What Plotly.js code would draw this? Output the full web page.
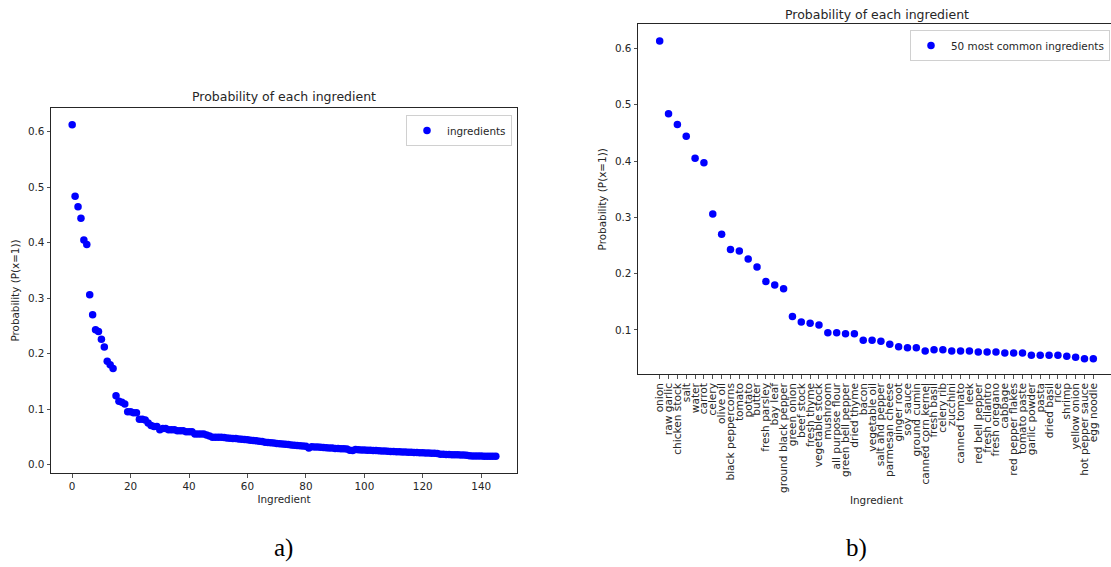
<!DOCTYPE html>
<html><head><meta charset="utf-8">
<script src="https://cdn.plot.ly/plotly-3.0.1.min.js"></script>
<style>html,body{margin:0;padding:0;overflow:hidden;background:#fff}#chart{width:1120px;height:567px}</style>
</head><body><div id="chart"></div><script>
// Probability of each ingredient, sorted (146 ingredients)
const probabilities = [
  0.613, 0.484, 0.465, 0.444, 0.405, 0.397, 0.306, 0.270, 0.243, 0.240,
  0.226, 0.212, 0.186, 0.180, 0.173, 0.124, 0.114, 0.112, 0.109, 0.095,
  0.095, 0.0935, 0.0935, 0.0817, 0.0817, 0.080, 0.0746, 0.0704, 0.0686, 0.0686,
  0.0627, 0.065, 0.065, 0.0627, 0.0627, 0.0627, 0.061, 0.061, 0.061, 0.0592,
  0.0592, 0.0592, 0.055, 0.055, 0.055, 0.055, 0.0533, 0.0515, 0.049, 0.049,
  0.0490, 0.0490, 0.0485, 0.0478, 0.0473, 0.0470, 0.0468, 0.0460, 0.0455, 0.0452,
  0.0445, 0.0438, 0.0433, 0.0428, 0.0420, 0.0415, 0.0400, 0.0395, 0.0390, 0.0385,
  0.0380, 0.0375, 0.0368, 0.0365, 0.0360, 0.0352, 0.0348, 0.0343, 0.0338, 0.0333,
  0.0330, 0.0298, 0.0318, 0.0315, 0.0313, 0.0310, 0.0305, 0.0300, 0.0298, 0.0295,
  0.0290, 0.0288, 0.0285, 0.0283, 0.0280, 0.0255, 0.0250, 0.0268, 0.0265, 0.0263,
  0.0260, 0.0258, 0.0255, 0.0252, 0.0250, 0.0248, 0.0245, 0.0243, 0.0240, 0.0235,
  0.0232, 0.0230, 0.0228, 0.0226, 0.0224, 0.0222, 0.0220, 0.0218, 0.0215, 0.0212,
  0.0210, 0.0208, 0.0206, 0.0204, 0.0202, 0.0200, 0.0185, 0.0183, 0.0181, 0.0179,
  0.0177, 0.0175, 0.0173, 0.0171, 0.0169, 0.0167, 0.0155, 0.0154, 0.0153, 0.0152,
  0.0151, 0.0150, 0.0149, 0.0148, 0.0147, 0.0146
];
const top50Labels = [
  "onion", "raw garlic", "chicken stock", "salt", "water", "carrot", "celery", "olive oil",
  "black peppercorns", "tomato", "potato", "butter", "fresh parsley", "bay leaf",
  "ground black pepper", "green onion", "beef stock", "fresh thyme", "vegetable stock",
  "mushroom", "all purpose flour", "green bell pepper", "dried thyme", "bacon",
  "vegetable oil", "salt and pepper", "parmesan cheese", "ginger root", "soy sauce",
  "ground cumin", "canned corn kernel", "fresh basil", "celery rib", "zucchini",
  "canned tomato", "leek", "red bell pepper", "fresh cilantro", "fresh oregano", "cabbage",
  "red pepper flakes", "tomato paste", "garlic powder", "pasta", "dried basil", "rice",
  "shrimp", "yellow onion", "hot pepper sauce", "egg noodle"
];
const leftXTicks = [0, 20, 40, 60, 80, 100, 120, 140];
const leftYTicks = [0.0, 0.1, 0.2, 0.3, 0.4, 0.5, 0.6];
const rightYTicks = [0.1, 0.2, 0.3, 0.4, 0.5, 0.6];
const titleText = "Probability of each ingredient";
const yTitleText = "Probability (P(x=1))";
const xTitleText = "Ingredient";

const W = 1120, H = 567;
const px = x => x / W;
const py = y => 1 - y / H;
const ink = '#262626';
const font = 'DejaVu Sans, sans-serif';

const ingredientIndex = probabilities.map((_, i) => i);
const top50Probs = probabilities.slice(0, top50Labels.length);

const traces = [
  {x: ingredientIndex, y: probabilities, type: 'scatter', mode: 'markers', name: 'ingredients',
   marker: {color: '#0000ff', size: 7.5}, xaxis: 'x', yaxis: 'y', legend: 'legend'},
  {x: top50Labels, y: top50Probs, type: 'scatter', mode: 'markers', name: '50 most common ingredients',
   marker: {color: '#0000ff', size: 7.5}, xaxis: 'x2', yaxis: 'y2', legend: 'legend2'}
];

const axisBase = {
  showline: true, mirror: true, linecolor: ink, linewidth: 1,
  ticks: 'outside', ticklen: 3.5, tickwidth: 0.8, tickcolor: ink,
  showgrid: false, zeroline: false,
  tickfont: {family: font, size: 10.4, color: ink}
};

const layout = {
  width: W, height: H,
  margin: {l: 0, r: 0, t: 0, b: 0},
  paper_bgcolor: '#fff', plot_bgcolor: '#fff',
  showlegend: true,
  xaxis: Object.assign({}, axisBase, {
    domain: [px(51), px(517)], range: [-7.25, 152.25],
    tickvals: leftXTicks, anchor: 'y',
    title: {text: xTitleText, font: {family: font, size: 10.4, color: ink}, standoff: 4}
  }),
  yaxis: Object.assign({}, axisBase, {
    domain: [py(473), py(108)], range: [-0.0154, 0.643],
    tickvals: leftYTicks, tickformat: '.1f', anchor: 'x',
    title: {text: yTitleText, font: {family: font, size: 10.4, color: ink}, standoff: 6}
  }),
  xaxis2: Object.assign({}, axisBase, {
    domain: [px(638), px(1115)], range: [-2.45, 51.45],
    type: 'category', tickangle: -90, anchor: 'y2',
    tickmode: 'array', tickvals: top50Labels, ticktext: top50Labels,
    tickfont: {family: font, size: 10.6, color: ink},
    title: {text: xTitleText, font: {family: font, size: 10.4, color: ink}, standoff: 4}
  }),
  yaxis2: Object.assign({}, axisBase, {
    domain: [py(374.3), py(24.3)], range: [0.0213, 0.6427],
    tickvals: rightYTicks, tickformat: '.1f', anchor: 'x2',
    title: {text: yTitleText, font: {family: font, size: 10.4, color: ink}, standoff: 6}
  }),
  legend: {x: px(512), y: py(115), xanchor: 'right', yanchor: 'top',
    bordercolor: '#d0d0d0', borderwidth: 1, bgcolor: 'rgba(255,255,255,0.8)',
    font: {family: font, size: 10.4, color: ink}, itemwidth: 30},
  legend2: {x: px(1110), y: py(30), xanchor: 'right', yanchor: 'top',
    bordercolor: '#d0d0d0', borderwidth: 1, bgcolor: 'rgba(255,255,255,0.8)',
    font: {family: font, size: 10.4, color: ink}, itemwidth: 30},
  annotations: [
    {text: titleText, xref: 'paper', yref: 'paper', x: px(284), y: py(97), xanchor: 'center', yanchor: 'middle',
     showarrow: false, font: {family: font, size: 12.5, color: ink}},
    {text: titleText, xref: 'paper', yref: 'paper', x: px(876.5), y: py(14.5), xanchor: 'center', yanchor: 'middle',
     showarrow: false, font: {family: font, size: 12.5, color: ink}},
    {text: 'a)', xref: 'paper', yref: 'paper', x: px(283), y: py(548), xanchor: 'center', yanchor: 'middle',
     showarrow: false, font: {family: 'Liberation Serif, serif', size: 25, color: '#000'}},
    {text: 'b)', xref: 'paper', yref: 'paper', x: px(857), y: py(548), xanchor: 'center', yanchor: 'middle',
     showarrow: false, font: {family: 'Liberation Serif, serif', size: 25, color: '#000'}}
  ]
};

Plotly.newPlot('chart', traces, layout, {staticPlot: true, displayModeBar: false});
</script></body></html>
